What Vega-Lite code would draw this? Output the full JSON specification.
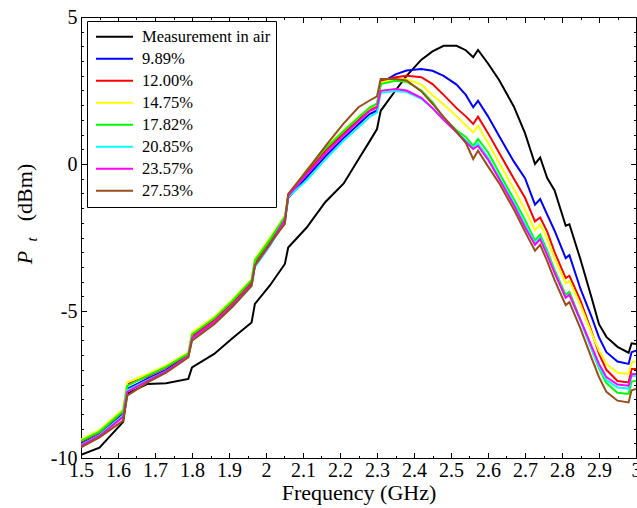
{
  "$schema": "https://vega.github.io/schema/vega-lite/v6.json",
  "width": 555,
  "height": 441,
  "autosize": {"type": "none"},
  "padding": {"left": 81, "top": 17, "right": 1, "bottom": 50},
  "background": "white",
  "title": {"text": "Frequency Range", "anchor": "start", "frame": "group", "dx": 93, "offset": 18,
    "baseline": "alphabetic", "font": "Liberation Serif", "fontSize": 29, "fontWeight": "normal", "color": "black"},
  "config": {
    "font": "Liberation Serif",
    "view": {"stroke": "black", "strokeWidth": 1},
    "axis": {
      "domainColor": "black", "tickColor": "black", "labelColor": "black", "titleColor": "black",
      "grid": false, "labelFont": "Liberation Serif", "titleFont": "Liberation Serif",
      "labelFontSize": 20, "titleFontSize": 22, "titleFontWeight": "normal",
      "tickWidth": 1, "domainWidth": 1, "labelFlush": false, "labelOverlap": false, "labelBound": false
    }
  },
  "datasets": {
    "names": [
      {"k": "air", "name": "Measurement in air"},
      {"k": "b", "name": "9.89%"},
      {"k": "r", "name": "12.00%"},
      {"k": "y", "name": "14.75%"},
      {"k": "g", "name": "17.82%"},
      {"k": "c", "name": "20.85%"},
      {"k": "m", "name": "23.57%"},
      {"k": "br", "name": "27.53%"}
    ]
  },
  "data": {"values": [
    {"f":1.5,"air":-9.89,"b":-9.52,"r":-9.45,"y":-9.37,"g":-9.42,"c":-9.55,"m":-9.58,"br":-9.64},
    {"f":1.55,"air":-9.65,"b":-9.20,"r":-9.12,"y":-9.05,"g":-9.10,"c":-9.22,"m":-9.25,"br":-9.30},
    {"f":1.614,"air":-8.77,"b":-8.50,"r":-8.42,"y":-8.33,"g":-8.40,"c":-8.55,"m":-8.60,"br":-8.73},
    {"f":1.625,"air":-7.81,"b":-7.65,"r":-7.50,"y":-7.42,"g":-7.55,"c":-7.70,"m":-7.75,"br":-7.88},
    {"f":1.68,"air":-7.48,"b":-7.30,"r":-7.22,"y":-7.14,"g":-7.20,"c":-7.35,"m":-7.38,"br":-7.43},
    {"f":1.73,"air":-7.46,"b":-7.00,"r":-6.92,"y":-6.85,"g":-6.90,"c":-7.05,"m":-7.05,"br":-7.10},
    {"f":1.79,"air":-7.31,"b":-6.52,"r":-6.48,"y":-6.41,"g":-6.45,"c":-6.55,"m":-6.55,"br":-6.58},
    {"f":1.80,"air":-6.92,"b":-5.90,"r":-5.85,"y":-5.73,"g":-5.80,"c":-5.95,"m":-5.92,"br":-6.01},
    {"f":1.86,"air":-6.46,"b":-5.40,"r":-5.30,"y":-5.20,"g":-5.25,"c":-5.42,"m":-5.38,"br":-5.45},
    {"f":1.91,"air":-5.92,"b":-4.80,"r":-4.70,"y":-4.60,"g":-4.65,"c":-4.85,"m":-4.80,"br":-4.85},
    {"f":1.961,"air":-5.39,"b":-4.10,"r":-4.00,"y":-3.91,"g":-3.95,"c":-4.15,"m":-4.10,"br":-4.14},
    {"f":1.97,"air":-4.76,"b":-3.45,"r":-3.32,"y":-3.23,"g":-3.28,"c":-3.50,"m":-3.45,"br":-3.45},
    {"f":2.01,"air":-4.14,"b":-2.75,"r":-2.62,"y":-2.52,"g":-2.58,"c":-2.80,"m":-2.75,"br":-2.72},
    {"f":2.051,"air":-3.40,"b":-1.92,"r":-1.85,"y":-1.76,"g":-1.80,"c":-1.95,"m":-1.90,"br":-2.04},
    {"f":2.06,"air":-2.84,"b":-1.15,"r":-1.12,"y":-1.05,"g":-1.08,"c":-1.12,"m":-1.08,"br":-1.02},
    {"f":2.11,"air":-2.16,"b":-0.45,"r":-0.30,"y":-0.20,"g":-0.22,"c":-0.55,"m":-0.35,"br":-0.23},
    {"f":2.16,"air":-1.30,"b":0.25,"r":0.45,"y":0.55,"g":0.52,"c":0.15,"m":0.35,"br":0.60},
    {"f":2.21,"air":-0.66,"b":0.88,"r":1.05,"y":1.15,"g":1.12,"c":0.80,"m":0.98,"br":1.38},
    {"f":2.25,"air":0.16,"b":1.35,"r":1.50,"y":1.60,"g":1.58,"c":1.25,"m":1.45,"br":1.93},
    {"f":2.28,"air":0.77,"b":1.70,"r":1.85,"y":1.90,"g":1.92,"c":1.60,"m":1.80,"br":2.16},
    {"f":2.30,"air":1.19,"b":1.82,"r":1.98,"y":2.02,"g":2.05,"c":1.75,"m":1.92,"br":2.30},
    {"f":2.31,"air":1.81,"b":2.75,"r":2.83,"y":2.77,"g":2.72,"c":2.42,"m":2.49,"br":2.89},
    {"f":2.35,"air":2.50,"b":3.05,"r":2.95,"y":2.88,"g":2.83,"c":2.48,"m":2.55,"br":2.89},
    {"f":2.38,"air":3.00,"b":3.18,"r":3.00,"y":2.88,"g":2.80,"c":2.45,"m":2.50,"br":2.84},
    {"f":2.42,"air":3.55,"b":3.23,"r":2.95,"y":2.70,"g":2.50,"c":2.22,"m":2.25,"br":2.47},
    {"f":2.45,"air":3.83,"b":3.17,"r":2.72,"y":2.35,"g":2.10,"c":1.90,"m":1.90,"br":2.05},
    {"f":2.48,"air":4.02,"b":3.00,"r":2.35,"y":2.02,"g":1.57,"c":1.52,"m":1.50,"br":1.60},
    {"f":2.515,"air":4.02,"b":2.70,"r":1.90,"y":1.62,"g":1.15,"c":1.10,"m":1.08,"br":1.10},
    {"f":2.54,"air":3.87,"b":2.35,"r":1.62,"y":1.32,"g":0.92,"c":0.80,"m":0.75,"br":0.72},
    {"f":2.56,"air":3.63,"b":1.93,"r":1.36,"y":1.07,"g":0.62,"c":0.55,"m":0.51,"br":0.17},
    {"f":2.573,"air":3.88,"b":2.15,"r":1.61,"y":1.30,"g":0.85,"c":0.70,"m":0.62,"br":0.45},
    {"f":2.60,"air":3.42,"b":1.62,"r":1.05,"y":0.72,"g":0.40,"c":0.22,"m":0.15,"br":-0.08},
    {"f":2.63,"air":2.86,"b":0.95,"r":0.38,"y":0.04,"g":-0.30,"c":-0.45,"m":-0.50,"br":-0.65},
    {"f":2.67,"air":1.95,"b":0.08,"r":-0.50,"y":-0.85,"g":-1.20,"c":-1.32,"m":-1.40,"br":-1.55},
    {"f":2.70,"air":1.05,"b":-0.48,"r":-1.15,"y":-1.55,"g":-1.90,"c":-2.05,"m":-2.15,"br":-2.30},
    {"f":2.727,"air":0.00,"b":-1.38,"r":-1.95,"y":-2.25,"g":-2.60,"c":-2.70,"m":-2.75,"br":-2.95},
    {"f":2.741,"air":0.22,"b":-1.19,"r":-1.82,"y":-2.05,"g":-2.40,"c":-2.50,"m":-2.55,"br":-2.75},
    {"f":2.76,"air":-0.48,"b":-1.72,"r":-2.30,"y":-2.55,"g":-2.95,"c":-3.05,"m":-3.10,"br":-3.30},
    {"f":2.78,"air":-0.90,"b":-2.27,"r":-3.00,"y":-3.20,"g":-3.60,"c":-3.68,"m":-3.70,"br":-3.95},
    {"f":2.81,"air":-2.10,"b":-3.20,"r":-3.88,"y":-4.05,"g":-4.45,"c":-4.55,"m":-4.55,"br":-4.80},
    {"f":2.82,"air":-2.05,"b":-3.10,"r":-3.80,"y":-3.98,"g":-4.35,"c":-4.45,"m":-4.45,"br":-4.70},
    {"f":2.85,"air":-3.25,"b":-4.25,"r":-4.65,"y":-4.80,"g":-5.30,"c":-5.35,"m":-5.30,"br":-5.60},
    {"f":2.88,"air":-4.55,"b":-5.20,"r":-5.70,"y":-5.75,"g":-6.30,"c":-6.30,"m":-6.20,"br":-6.60},
    {"f":2.90,"air":-5.45,"b":-5.90,"r":-6.45,"y":-6.35,"g":-6.95,"c":-6.90,"m":-6.80,"br":-7.25},
    {"f":2.92,"air":-5.88,"b":-6.40,"r":-7.00,"y":-6.80,"g":-7.45,"c":-7.35,"m":-7.25,"br":-7.75},
    {"f":2.95,"air":-6.22,"b":-6.72,"r":-7.38,"y":-7.10,"g":-7.78,"c":-7.60,"m":-7.50,"br":-8.05},
    {"f":2.98,"air":-6.42,"b":-6.80,"r":-7.43,"y":-7.14,"g":-7.82,"c":-7.64,"m":-7.54,"br":-8.11},
    {"f":2.988,"air":-6.10,"b":-6.40,"r":-6.97,"y":-6.75,"g":-7.40,"c":-7.22,"m":-7.15,"br":-7.70},
    {"f":3.0,"air":-6.12,"b":-6.35,"r":-6.97,"y":-6.71,"g":-7.37,"c":-7.20,"m":-7.14,"br":-7.65}
  ]},
  "transform": [
    {"fold": ["air", "b", "r", "y", "g", "c", "m", "br"], "as": ["k", "v"]},
    {"lookup": "k", "from": {"data": {"name": "names"}, "key": "k", "fields": ["name"]}}
  ],
  "resolve": {"axis": {"x": "independent", "y": "independent"}},
  "layer": [
    {
      "mark": {"type": "line", "strokeWidth": 2, "clip": true},
      "encoding": {
        "x": {"field": "f", "type": "quantitative",
          "scale": {"domain": [1.5, 3.0], "nice": false, "zero": false},
          "axis": {"orient": "bottom", "values": [1.5,1.6,1.7,1.8,1.9,2,2.1,2.2,2.3,2.4,2.5,2.6,2.7,2.8,2.9,3],
            "labelExpr": "toString(datum.value)", "tickSize": -5.5, "labelPadding": 8,
            "title": "Frequency (GHz)", "titleX": 277.5, "titleY": 41, "titleBaseline": "alphabetic", "titleAlign": "center"}},
        "y": {"field": "v", "type": "quantitative",
          "scale": {"domain": [-10, 5], "nice": false, "zero": false},
          "axis": {"orient": "left", "values": [-10, -5, 0, 5], "labelExpr": "toString(datum.value)",
            "tickSize": -5.5, "labelPadding": 9.5,
            "title": "P", "titleFontStyle": "italic", "titleAngle": 270, "titleX": -57, "titleY": 240,
            "titleBaseline": "middle", "titleAlign": "center"}},
        "color": {"field": "name", "type": "nominal",
          "scale": {"domain": ["Measurement in air", "9.89%", "12.00%", "14.75%", "17.82%", "20.85%", "23.57%", "27.53%"],
            "range": ["#000000", "#0000FF", "#FF0000", "#FFFF00", "#00FF00", "#00FFFF", "#FF00FF", "#994D1A"]},
          "legend": {"orient": "none", "legendX": 6, "legendY": 4, "title": null,
            "symbolType": "stroke", "symbolSize": 1369, "symbolStrokeWidth": 2, "clipHeight": 21.6,
            "rowPadding": 0, "padding": 5, "symbolOffset": 3, "labelOffset": 8,
            "labelFontSize": 16.5, "labelFont": "Liberation Serif", "labelColor": "black", "labelLimit": 400,
            "strokeColor": "black", "fillColor": "white"}}
      }
    },
    {
      "mark": {"type": "point", "opacity": 0},
      "encoding": {
        "x": {"field": "f", "type": "quantitative",
          "axis": {"orient": "top", "values": [1.5,1.6,1.7,1.8,1.9,2,2.1,2.2,2.3,2.4,2.5,2.6,2.7,2.8,2.9,3],
            "tickSize": -5.5, "labels": false, "title": null}},
        "y": {"field": "v", "type": "quantitative",
          "axis": {"orient": "right", "values": [-10, -5, 0, 5], "tickSize": -5.5, "labels": false,
            "title": "t", "titleFontStyle": "italic", "titleFontSize": 15, "titleAngle": 270,
            "titleX": -605, "titleY": 222, "titleBaseline": "middle", "titleAlign": "center"}}
      }
    },
    {
      "mark": {"type": "point", "opacity": 0},
      "encoding": {
        "x": {"field": "f", "type": "quantitative",
          "axis": {"orient": "bottom", "values": [1.55,1.65,1.75,1.85,1.95,2.05,2.15,2.25,2.35,2.45,2.55,2.65,2.75,2.85,2.95],
            "tickSize": -2.5, "labels": false, "domain": false, "title": null}},
        "y": {"field": "v", "type": "quantitative",
          "axis": {"orient": "left", "values": [-9.5,-9,-8.5,-8,-7.5,-7,-6.5,-6,-5.5,-4.5,-4,-3.5,-3,-2.5,-2,-1.5,-1,-0.5,0.5,1,1.5,2,2.5,3,3.5,4,4.5],
            "tickSize": -2.5, "labels": false, "domain": false,
            "title": "(dBm)", "titleAngle": 270, "titleX": -57, "titleY": 175,
            "titleBaseline": "middle", "titleAlign": "center"}}
      }
    },
    {
      "mark": {"type": "point", "opacity": 0},
      "encoding": {
        "x": {"field": "f", "type": "quantitative",
          "axis": {"orient": "top", "values": [1.55,1.65,1.75,1.85,1.95,2.05,2.15,2.25,2.35,2.45,2.55,2.65,2.75,2.85,2.95],
            "tickSize": -2.5, "labels": false, "domain": false, "title": null}},
        "y": {"field": "v", "type": "quantitative",
          "axis": {"orient": "right", "values": [-9.5,-9,-8.5,-8,-7.5,-7,-6.5,-6,-5.5,-4.5,-4,-3.5,-3,-2.5,-2,-1.5,-1,-0.5,0.5,1,1.5,2,2.5,3,3.5,4,4.5],
            "tickSize": -2.5, "labels": false, "domain": false, "title": null}}
      }
    }
  ]
}
